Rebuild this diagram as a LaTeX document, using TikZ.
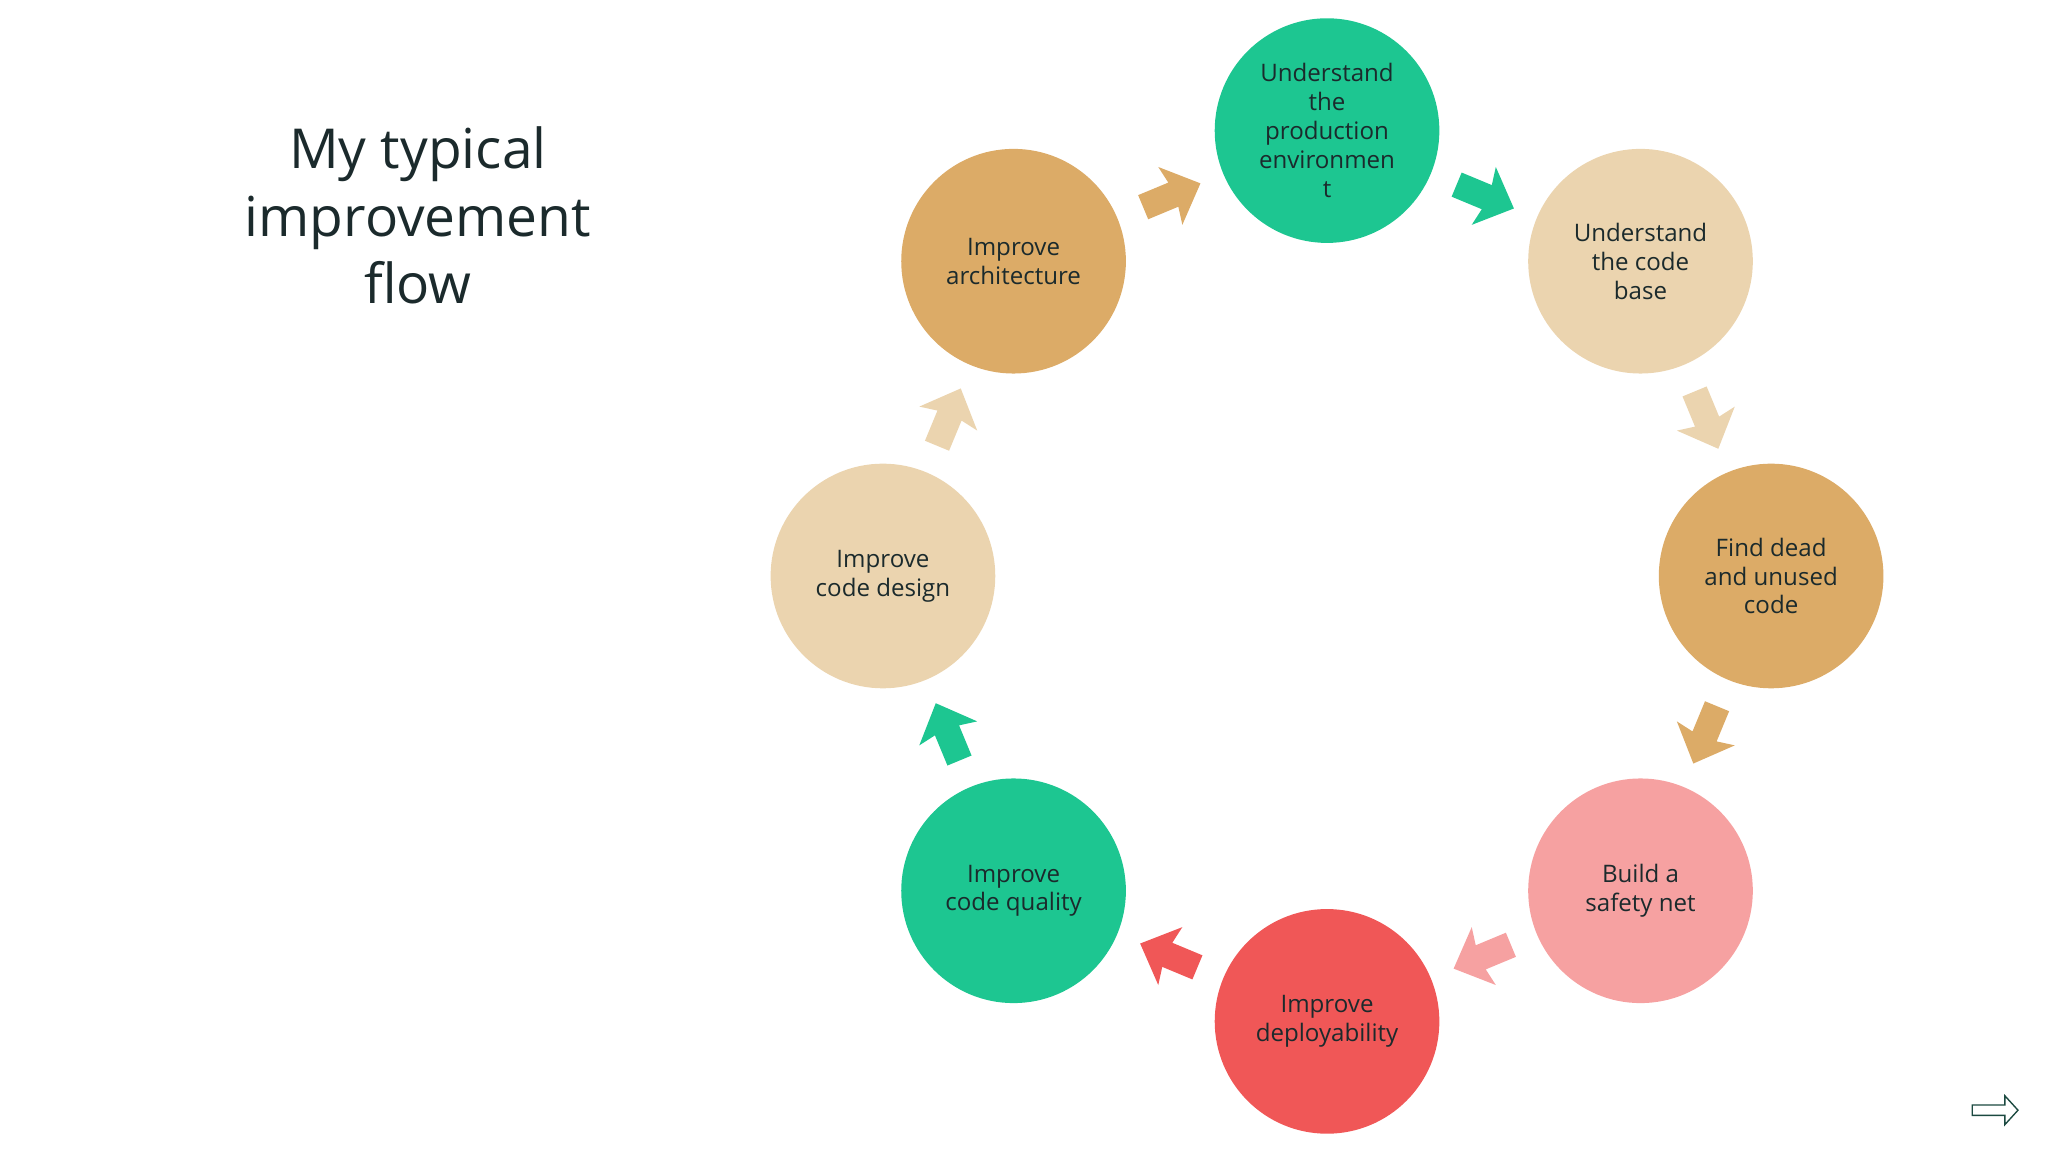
\documentclass[tikz,border=0pt]{standalone}
\usepackage{fontspec}
\setmainfont{Open Sans}
\begin{document}
\definecolor{cgreen}{HTML}{1DC691}
\definecolor{clight}{HTML}{EBD4AF}
\definecolor{cdark}{HTML}{DCAB67}
\definecolor{cpink}{HTML}{F6A1A1}
\definecolor{cred}{HTML}{F05757}
\definecolor{ctext}{HTML}{1B2A2C}
\begin{tikzpicture}[
  stage/.style={circle,minimum size=3.44cm,inner sep=0pt,align=center,text=ctext,font=\fontsize{10.5}{12.6}\selectfont},
  pics/blk/.style={code={\fill[#1] (-0.45,-0.2)--(0.05,-0.2)--(0,-0.48)--(0.5,0)--(0,0.48)--(0.05,0.2)--(-0.45,0.2)--cycle;}}
]
\useasboundingbox (0,0) rectangle (31.36,17.64);
\node[text=ctext,align=center,font=\fontsize{24}{29.5}\selectfont] (title) at (6.4,14.34) {My typical\\improvement\\flow};
\node[stage,fill=cgreen] (top) at (20.32,15.64) {Understand\\the\\production\\environmen\\t};
\node[stage,fill=clight] (cb) at (25.12,13.64) {Understand\\the code\\base};
\node[stage,fill=cdark] (fd) at (27.12,8.82) {Find dead\\and unused\\code};
\node[stage,fill=cpink] (bs) at (25.12,4.0) {Build a\\safety net};
\node[stage,fill=cred] (dp) at (20.32,2.0) {Improve\\deployability};
\node[stage,fill=cgreen] (cq) at (15.52,4.0) {Improve\\code quality};
\node[stage,fill=clight] (cd) at (13.52,8.82) {Improve\\code design};
\node[stage,fill=cdark] (ar) at (15.52,13.64) {Improve\\architecture};
\pic[rotate=22.6] at (17.92,14.64) {blk=cdark};
\pic[rotate=-22.6] at (22.72,14.64) {blk=cgreen};
\pic[rotate=-67.5] at (26.12,11.23) {blk=clight};
\pic[rotate=-112.5] at (26.12,6.41) {blk=cdark};
\pic[rotate=202.6] at (22.72,3.0) {blk=cpink};
\pic[rotate=157.4] at (17.92,3.0) {blk=cred};
\pic[rotate=112.5] at (14.52,6.41) {blk=cgreen};
\pic[rotate=67.5] at (14.52,11.23) {blk=clight};
\draw[draw=ctext!80!cgreen,fill=white,line width=0.6pt] (30.2,0.56)--(30.7,0.56)--(30.7,0.42)--(30.9,0.64)--(30.7,0.86)--(30.7,0.72)--(30.2,0.72)--cycle;
\end{tikzpicture}
\end{document}
